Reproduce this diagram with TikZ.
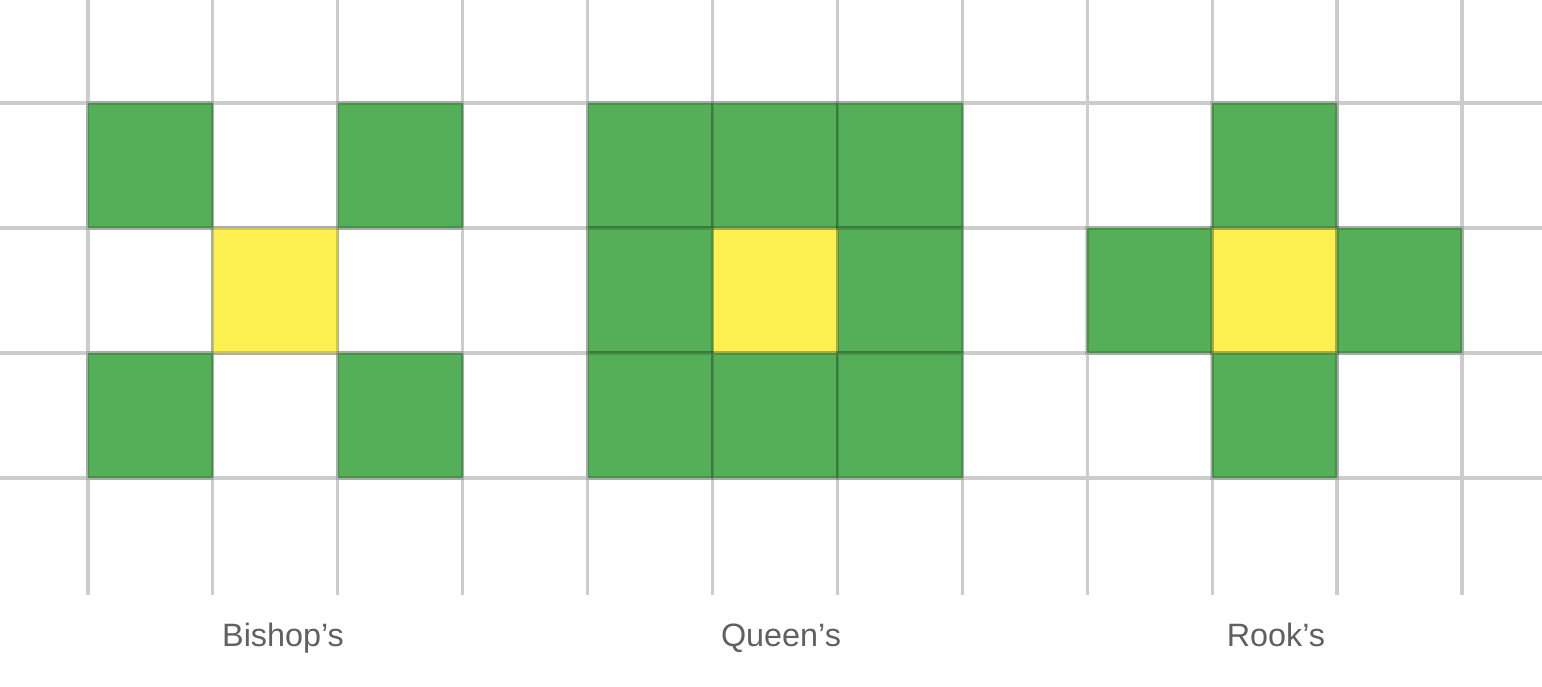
\documentclass[tikz,border=0pt]{standalone}
\usepackage{fontspec}
\setmainfont{Liberation Sans}
\usetikzlibrary{positioning}
\definecolor{MyGreen}{RGB}{85, 174, 88}
\definecolor{MyYellow}{RGB}{252, 241, 80}
\definecolor{MyGrid}{RGB}{204, 204, 204}
\definecolor{MyText}{RGB}{96, 96, 96}

\begin{document}
\begin{tikzpicture}[
  node distance=0pt,
  cell/.style={minimum size=1.25cm, inner sep=0pt, outer sep=0pt, draw=black,
               draw opacity=0.16, line width=1.1pt},
  move/.style={cell, fill=MyGreen},
  piece/.style={cell, fill=MyYellow},
  gridline/.style={MyGrid, line width=0.9pt},
  lab/.style={font=\fontsize{9.2}{11}\selectfont, text=MyText, anchor=base}
]
\useasboundingbox (0,0) rectangle (15.42,6.86);
% board lines
\foreach \x in {0,...,11}
  \draw[gridline] (0.88+1.249*\x,6.86) -- (0.88+1.249*\x,0.91);
\foreach \y in {0,...,3}
  \draw[gridline] (0,5.83-1.25*\y) -- (15.42,5.83-1.25*\y);

% bishop
\node[piece] (bc) at (2.75,3.955) {};
\node[move, above left=of bc]  (bnw) {};
\node[move, above right=of bc] (bne) {};
\node[move, below left=of bc]  (bsw) {};
\node[move, below right=of bc] (bse) {};

% queen
\node[piece] (qc) at (7.75,3.955) {};
\node[move, above left=of qc]  (qnw) {};
\node[move, above=of qc]       (qn)  {};
\node[move, above right=of qc] (qne) {};
\node[move, left=of qc]        (qw)  {};
\node[move, right=of qc]       (qe)  {};
\node[move, below left=of qc]  (qsw) {};
\node[move, below=of qc]       (qs)  {};
\node[move, below right=of qc] (qse) {};

% rook
\node[piece] (rc) at (12.745,3.955) {};
\node[move, above=of rc] (rn) {};
\node[move, left=of rc]  (rw) {};
\node[move, right=of rc] (re) {};
\node[move, below=of rc] (rs) {};

\node[lab] (blab) at (2.83,0.40)  {Bishop’s};
\node[lab] (qlab) at (7.81,0.40)  {Queen’s};
\node[lab] (rlab) at (12.76,0.40) {Rook’s};
\end{tikzpicture}
\end{document}
